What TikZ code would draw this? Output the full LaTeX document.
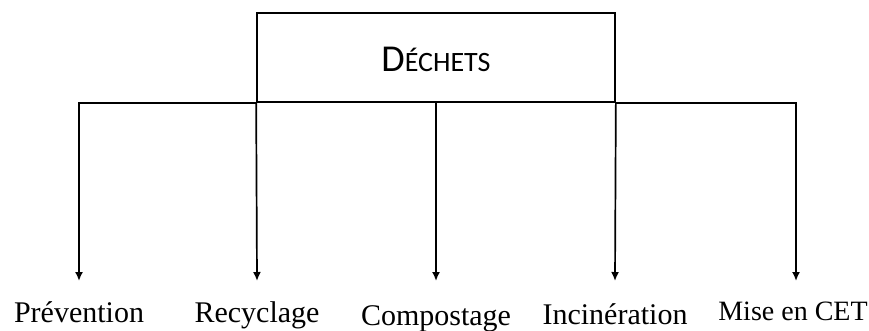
\documentclass[tikz,border=0pt]{standalone}
\usepackage{fontspec}
\setmainfont{Liberation Serif}
\newfontfamily\boxfont{Carlito}
\usetikzlibrary{arrows.meta}
\begin{document}
\begin{tikzpicture}[x=1pt,y=-1pt,
  conn/.style={line width=1.7pt},
  arr/.style={conn,-{Latex[length=9pt,width=8pt]}},
  lbl/.style={anchor=base,inner sep=0pt,font=\fontsize{30}{33}\selectfont},
  mainbox/.style={draw,line width=1.7pt,minimum width=358pt,minimum height=89pt,inner sep=0pt}]
\useasboundingbox (0,0) rectangle (869,330);
\node[mainbox] (dech) at (436,57.5) {};
\node[inner sep=0pt,anchor=base] (dtxt) at (436,71) {\boxfont{\fontsize{38}{40}\selectfont D}{\fontsize{28}{30}\selectfont ÉCHETS}};
\node[lbl] (prev) at (79,322) {Prévention};
\node[lbl] (recy) at (257,322) {Recyclage};
\node[lbl] (comp) at (436,325) {Compostage};
\node[lbl] (inci) at (615,324) {Incinération};
\node[lbl,font=\fontsize{28}{31}\selectfont] (mise) at (793,320) {Mise en CET};
\coordinate (t1) at (79,281);
\coordinate (t2) at (257,281);
\coordinate (t3) at (436,281);
\coordinate (t4) at (615,281);
\coordinate (t5) at (796,281);
\draw[arr] (dech.south west) -| (t1);
\draw[arr] (dech.south east) -| (t5);
\draw[arr] (dech.south west) -- (t2);
\draw[arr] (dech.south) -- (t3);
\draw[arr] (dech.south east) -- (t4);
\end{tikzpicture}
\end{document}
